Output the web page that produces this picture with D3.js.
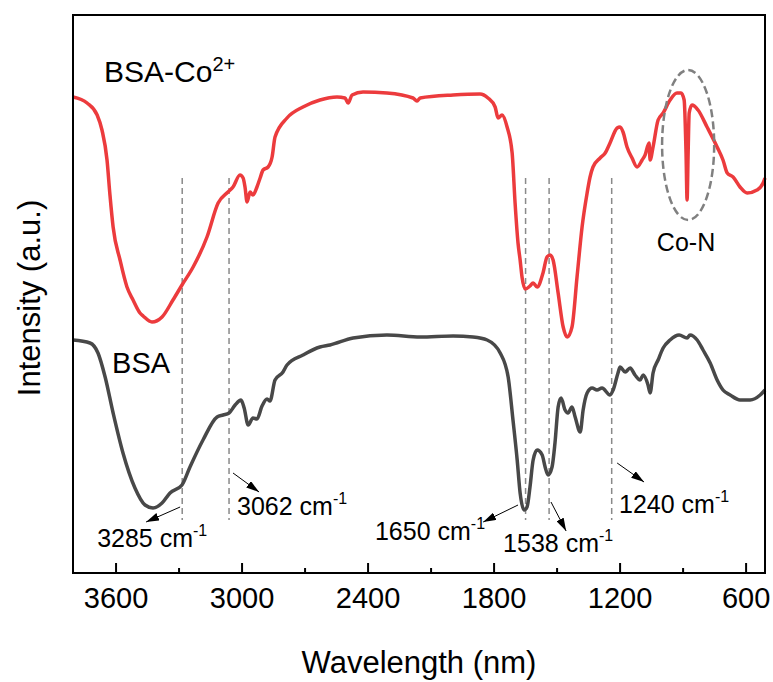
<!DOCTYPE html>
<html><head><meta charset="utf-8">
<script src="https://cdn.jsdelivr.net/npm/d3@7"></script>
<style>
html,body{margin:0;padding:0;background:#fff;}
svg{display:block;font-family:"Liberation Sans",Arial,Helvetica,sans-serif;}
</style></head>
<body>
<svg id="chart" width="773" height="682"></svg>
<script>
// ---- data: [wavenumber (cm-1), intensity (a.u.)] ----
const bsaCo = [
 [3805,476],[3738,470],[3690,458],[3667,443],[3643,413],[3629,378],[3614,346],
 [3581,313],[3548,286],[3519,273],[3486,260],[3471,257],[3429,251],[3381,256],[3329,273],
 [3286,288],[3233,306],[3167,336],[3114,370],[3067,381],[3043,386],[3010,398],[2995,395],
 [2986,386],[2976,371],[2962,381],[2948,378],[2929,386],[2914,395],[2900,403],[2876,406],
 [2857,416],[2843,436],[2786,455],[2710,466],[2629,473],[2548,476],[2510,475],[2495,470],
 [2476,478],[2424,481],[2310,480],[2186,475],[2167,472],[2152,475],[1995,478],[1867,479],
 [1829,475],[1795,466],[1781,455],[1762,458],[1738,446],[1714,420],[1700,370],[1686,330],
 [1676,313],[1667,296],[1652,284],[1629,287],[1614,290],[1595,286],[1567,300],[1548,316],
 [1533,318],[1519,313],[1495,280],[1471,246],[1452,236],[1429,246],[1405,296],[1381,346],
 [1357,380],[1343,396],[1329,406],[1295,415],[1271,420],[1248,430],[1214,445],[1200,446],
 [1186,441],[1167,426],[1143,415],[1119,406],[1095,413],[1081,418],[1062,430],[1057,413],
 [1043,426],[1019,453],[995,460],[962,473],[929,480],[910,480],[895,473],[886,420],
 [881,373],[876,420],[871,460],[857,468],[829,463],[786,446],[738,426],[710,413],
 [690,400],[662,396],[629,386],[595,380],[548,383],[519,390],[510,395]
];
const bsa = [
 [3805,233],[3724,230],[3686,220],[3652,196],[3614,160],[3567,120],[3510,85],[3462,68],
 [3424,65],[3381,70],[3343,80],[3286,88],[3248,106],[3186,133],[3119,156],[3090,158],
 [3062,160],[3033,168],[3005,173],[2990,165],[2971,148],[2948,155],[2929,154],[2905,167],
 [2881,174],[2867,172],[2843,193],[2805,201],[2786,208],[2710,218],[2629,226],[2581,228],
 [2471,235],[2310,238],[2152,236],[1995,237],[1900,236],[1833,233],[1771,220],[1733,196],
 [1710,153],[1690,113],[1676,80],[1657,63],[1643,66],[1629,86],[1614,113],[1595,123],
 [1571,118],[1557,106],[1543,98],[1524,106],[1510,130],[1495,166],[1481,175],[1462,163],
 [1448,160],[1429,166],[1414,156],[1390,141],[1376,163],[1357,180],[1333,185],[1310,183],
 [1286,185],[1248,178],[1233,183],[1210,200],[1200,206],[1176,201],[1152,205],[1129,198],
 [1105,193],[1090,198],[1067,188],[1057,180],[1043,200],[1019,213],[995,225],[962,233],
 [919,238],[881,235],[867,238],[833,233],[805,223],[771,210],[738,193],[710,183],
 [676,178],[629,173],[581,173],[533,178],[510,183]
];
const xTicks = [3600, 3000, 2400, 1800, 1200, 600];
const xMinorTicks = [3300, 2700, 2100, 1500, 900];
const peakLines = [3285, 3062, 1650, 1538, 1240];
// annotation arrows: label, arrow from [wn, int] to [wn, int], label anchor [wn, int], text-anchor
const peakLabels = [
 {text:"3285 cm", from:[3295,66], to:[3457,51], at:[3690,26], anchor:"start"},
 {text:"3062 cm", from:[3043,100], to:[2919,81], at:[3024,58], anchor:"start"},
 {text:"1650 cm", from:[1686,68], to:[1852,51], at:[1843,33], anchor:"end"},
 {text:"1538 cm", from:[1529,71], to:[1457,42], at:[1757,21], anchor:"start"},
 {text:"1240 cm", from:[1214,110], to:[1086,91], at:[1205,60], anchor:"start"}
];
const seriesNames = ["BSA-Co", "BSA"];

const svg = d3.select("#chart");
const L = 73, R = 765, T = 15, B = 573;
const x = d3.scaleLinear().domain([3805, 510]).range([L, R]);
const y = d3.scaleLinear().domain([0, 558]).range([B, T]);

const line = d3.line().x(d => x(d[0])).y(d => y(d[1])).curve(d3.curveMonotoneX);

// dashed peak guides
svg.append("g").selectAll("line").data(peakLines).join("line")
  .attr("x1", d => x(d)).attr("x2", d => x(d))
  .attr("y1", y(395)).attr("y2", y(53))
  .attr("stroke", "#8a8a8a").attr("stroke-width", 1.5).attr("stroke-dasharray", "6,4");

// curves
svg.append("path").datum(bsaCo).attr("d", line).attr("fill", "none")
  .attr("stroke", "#ec3b3d").attr("stroke-width", 3.5).attr("stroke-linejoin", "round");
svg.append("path").datum(bsa).attr("d", line).attr("fill", "none")
  .attr("stroke", "#484848").attr("stroke-width", 3.5).attr("stroke-linejoin", "round");

// Co-N ellipse
const ec = [876, 428];
svg.append("ellipse")
  .attr("cx", x(ec[0])).attr("cy", y(ec[1]))
  .attr("rx", x(ec[0] - 124) - x(ec[0])).attr("ry", y(ec[1] - 75) - y(ec[1]))
  .attr("fill", "none").attr("stroke", "#808080").attr("stroke-width", 2.5)
  .attr("stroke-dasharray", "8,4");
svg.append("text").attr("x", x(886)).attr("y", y(322)).attr("text-anchor", "middle")
  .attr("font-size", 25).text("Co-N");

// arrow marker
svg.append("defs").append("marker").attr("id", "ah")
  .attr("viewBox", "0 0 13 8").attr("refX", 13).attr("refY", 4)
  .attr("markerWidth", 13).attr("markerHeight", 8).attr("markerUnits", "userSpaceOnUse")
  .attr("orient", "auto")
  .append("path").attr("d", "M0,0L13,4L0,8Z").attr("fill", "#000");

const ann = svg.append("g");
peakLabels.forEach(p => {
  ann.append("line")
    .attr("x1", x(p.from[0])).attr("y1", y(p.from[1]))
    .attr("x2", x(p.to[0])).attr("y2", y(p.to[1]))
    .attr("stroke", "#000").attr("stroke-width", 1).attr("marker-end", "url(#ah)");
  const t = ann.append("text").attr("x", x(p.at[0])).attr("y", y(p.at[1]))
    .attr("text-anchor", p.anchor).attr("font-size", 25);
  t.append("tspan").text(p.text);
  t.append("tspan").attr("font-size", 16).attr("dy", -11).text("-1");
});

// series labels
const t1 = svg.append("text").attr("x", x(3657)).attr("y", y(491)).attr("font-size", 30);
t1.append("tspan").text(seriesNames[0]);
t1.append("tspan").attr("font-size", 20).attr("dy", -11).text("2+");
svg.append("text").attr("x", x(3619)).attr("y", y(200)).attr("font-size", 29).text(seriesNames[1]);

// axis ticks (inward)
const ax = svg.append("g");
ax.selectAll("line.maj").data(xTicks).join("line").attr("class", "maj")
  .attr("x1", d => x(d)).attr("x2", d => x(d)).attr("y1", B).attr("y2", B - 10)
  .attr("stroke", "#000").attr("stroke-width", 2);
ax.selectAll("line.min").data(xMinorTicks).join("line").attr("class", "min")
  .attr("x1", d => x(d)).attr("x2", d => x(d)).attr("y1", B).attr("y2", B - 5)
  .attr("stroke", "#000").attr("stroke-width", 2);
ax.selectAll("text").data(xTicks).join("text")
  .attr("x", d => x(d)).attr("y", 608).attr("text-anchor", "middle")
  .attr("font-size", 29).text(d => d);

// frame
svg.append("rect").attr("x", L).attr("y", T).attr("width", R - L).attr("height", B - T)
  .attr("fill", "none").attr("stroke", "#000").attr("stroke-width", 2);

// axis titles
svg.append("text").attr("x", (L + R) / 2).attr("y", 673).attr("text-anchor", "middle")
  .attr("font-size", 31).text("Wavelength (nm)");
svg.append("text").attr("transform", `translate(40,${(T + B) / 2 + 4}) rotate(-90)`)
  .attr("text-anchor", "middle").attr("font-size", 31).text("Intensity (a.u.)");
</script>
</body></html>
